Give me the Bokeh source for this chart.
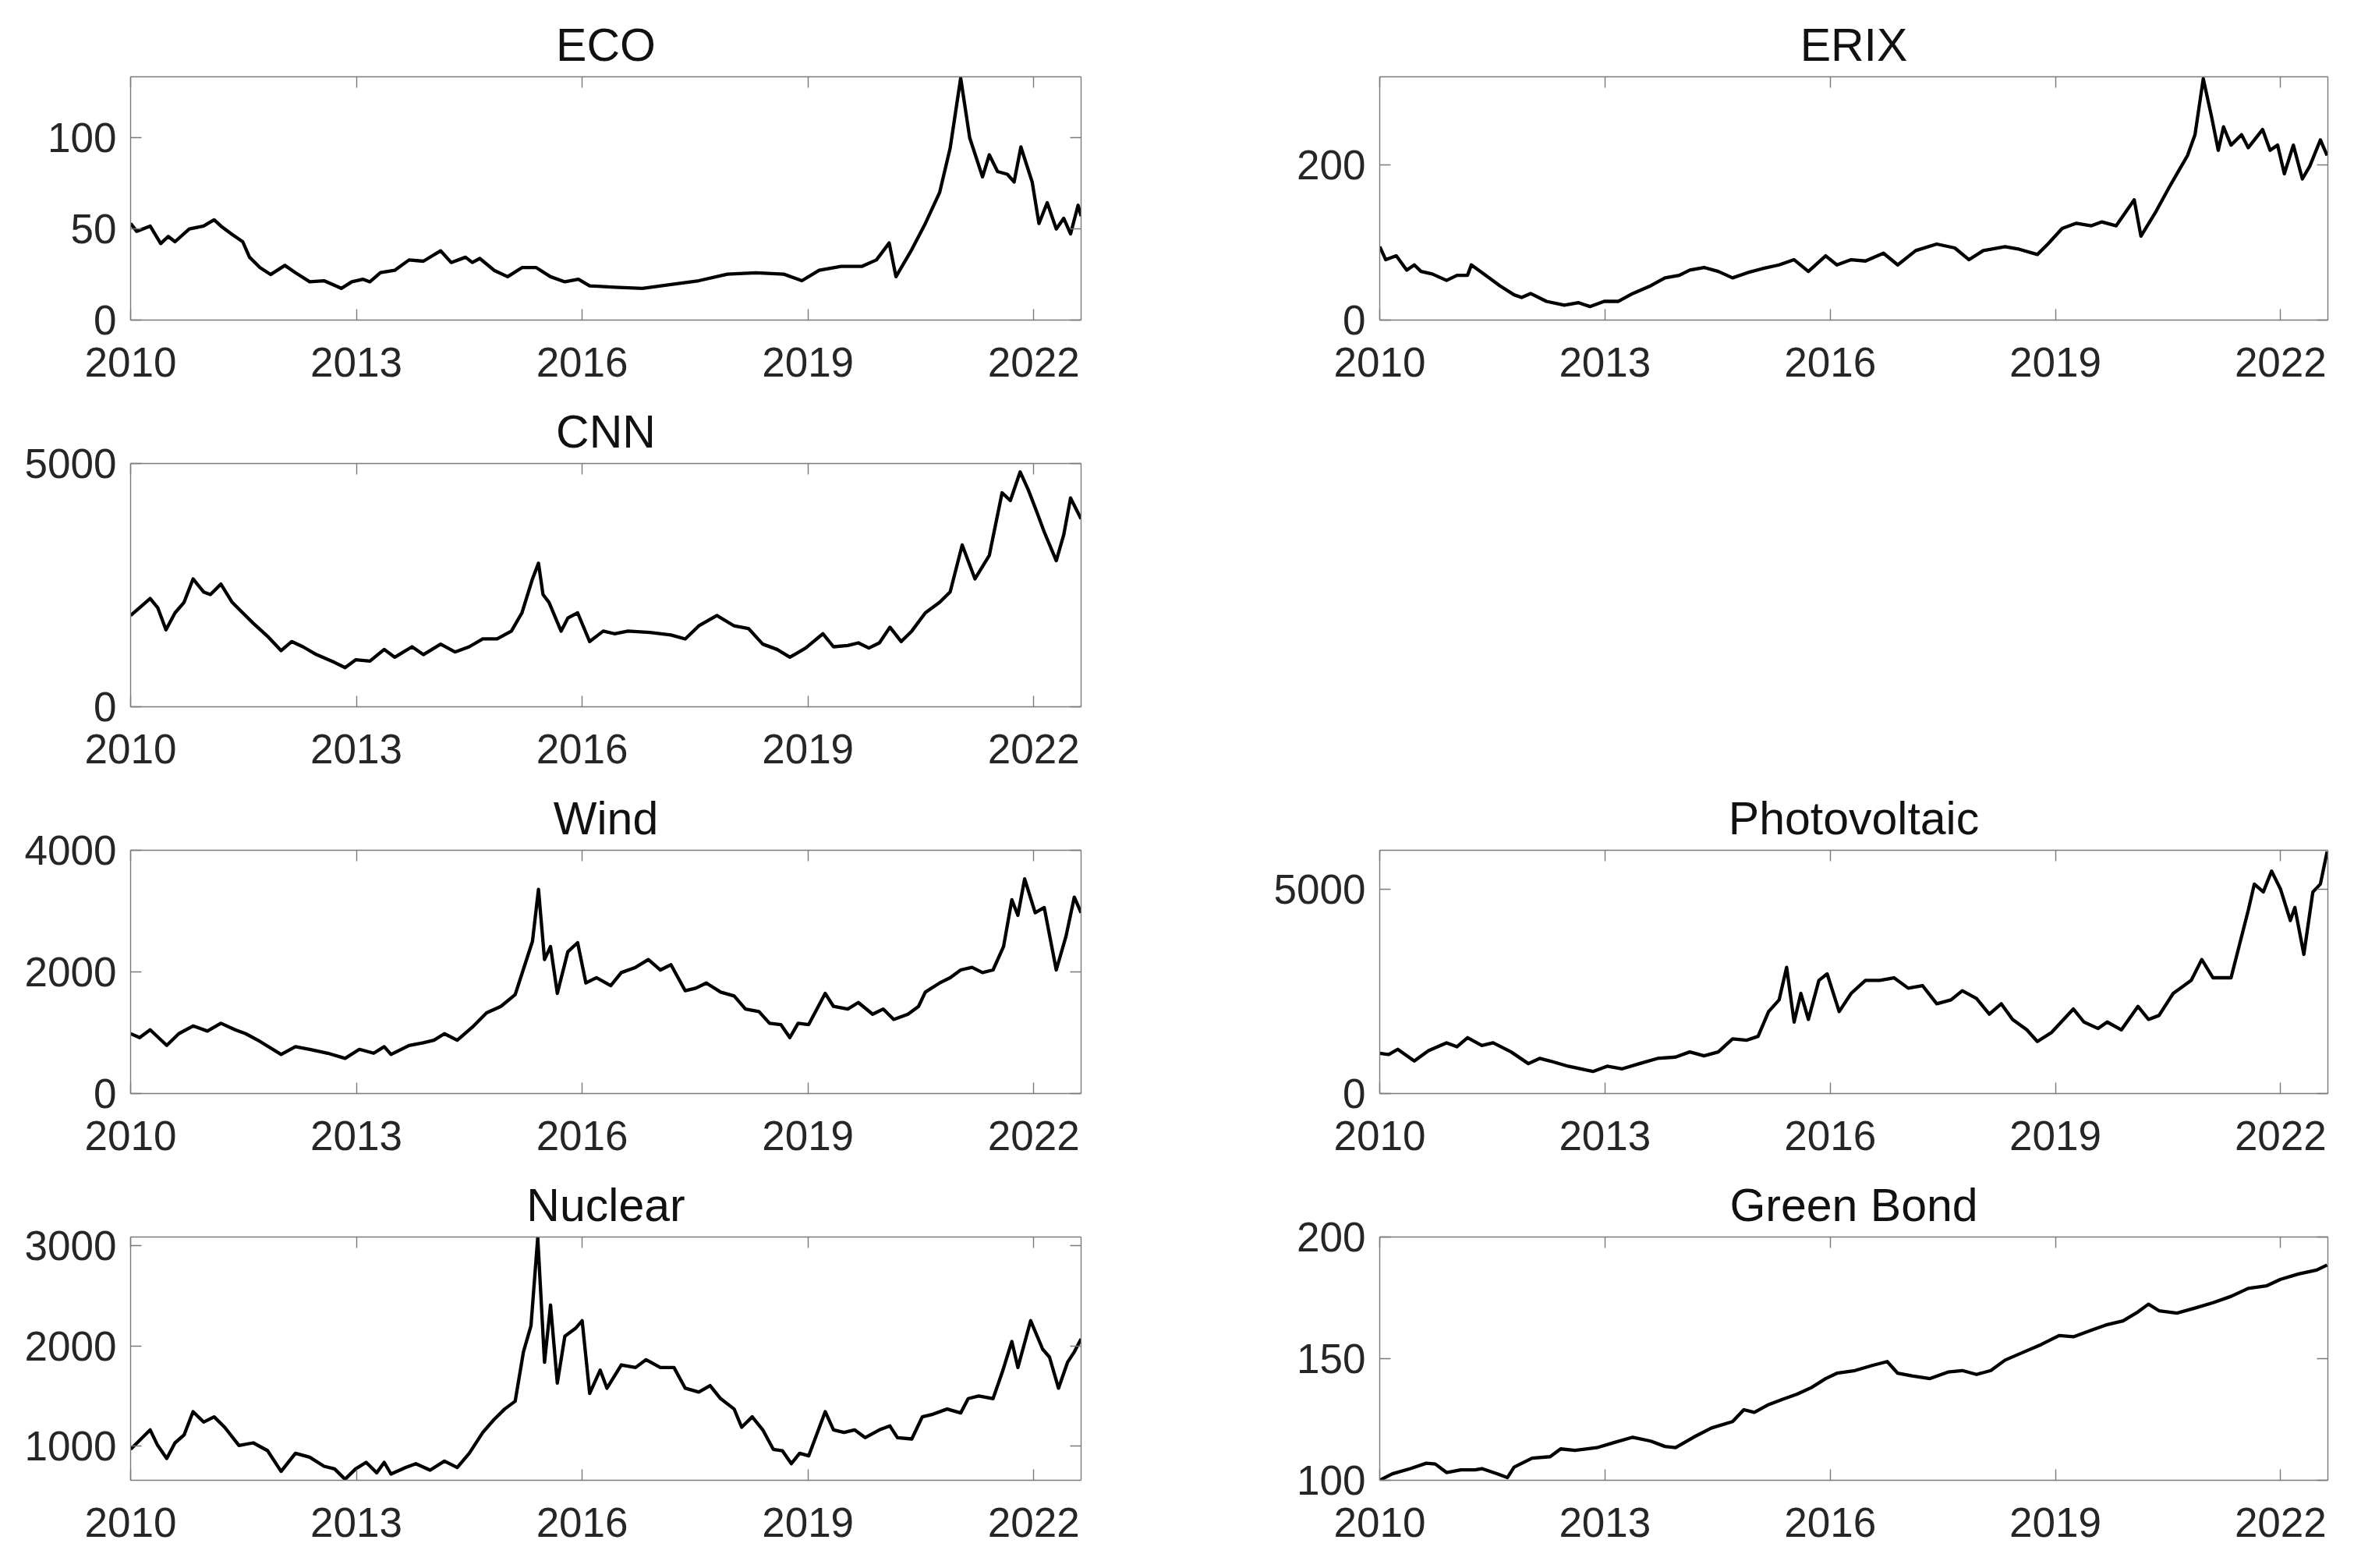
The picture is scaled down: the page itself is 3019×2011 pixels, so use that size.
from bokeh.plotting import figure
from bokeh.models import FixedTicker, LinearAxis, Range1d, Spacer
from bokeh.layouts import column, row
from bokeh.embed import file_html
from bokeh.resources import INLINE

# ---------------- data (decimal years, index levels) ----------------
x_ticks = [2010, 2013, 2016, 2019, 2022]
x_limits = [2010.0, 2022.63]

eco_x = [2010.00, 2010.08, 2010.26, 2010.40, 2010.50, 2010.59, 2010.78, 2010.97, 2011.11, 2011.20, 2011.35, 2011.49, 2011.58, 2011.72, 2011.86, 2012.05, 2012.19, 2012.38, 2012.57, 2012.80, 2012.94, 2013.09, 2013.18, 2013.32, 2013.51, 2013.70, 2013.89, 2014.12, 2014.26, 2014.45, 2014.54, 2014.64, 2014.83, 2015.01, 2015.20, 2015.39, 2015.58, 2015.77, 2015.95, 2016.10, 2016.43, 2016.80, 2017.18, 2017.55, 2017.93, 2018.31, 2018.68, 2018.92, 2019.15, 2019.44, 2019.72, 2019.91, 2020.08, 2020.17, 2020.38, 2020.56, 2020.75, 2020.89, 2021.03, 2021.15, 2021.32, 2021.41, 2021.52, 2021.65, 2021.74, 2021.83, 2021.98, 2022.07, 2022.18, 2022.30, 2022.40, 2022.49, 2022.59, 2022.63]
eco_y = [53, 48.7, 51.6, 42, 45.9, 43, 50, 51.6, 55, 51.6, 47, 43, 34.5, 28.8, 25, 30, 26, 21, 21.6, 17.4, 21, 22.4, 21, 26, 27.3, 33, 32.3, 38, 31.6, 34.5, 31.6, 33.8, 27.3, 23.8, 28.8, 28.8, 23.8, 21, 22.4, 18.8, 18, 17.4, 19.5, 21.6, 25.2, 25.9, 25.2, 21.6, 27.3, 29.5, 29.5, 33, 42.3, 23.8, 38.7, 53, 70, 94.3, 132.8, 100, 78.6, 90.7, 81.5, 80, 75.8, 95, 75.8, 53, 64.4, 50, 55.8, 47.3, 63, 57]

erix_x = [2010.00, 2010.08, 2010.22, 2010.36, 2010.46, 2010.55, 2010.70, 2010.89, 2011.03, 2011.17, 2011.22, 2011.41, 2011.60, 2011.79, 2011.89, 2012.01, 2012.22, 2012.46, 2012.65, 2012.80, 2012.99, 2013.18, 2013.37, 2013.61, 2013.80, 2013.99, 2014.13, 2014.32, 2014.51, 2014.70, 2014.90, 2015.09, 2015.32, 2015.52, 2015.71, 2015.94, 2016.09, 2016.28, 2016.47, 2016.71, 2016.90, 2017.14, 2017.42, 2017.66, 2017.85, 2018.04, 2018.33, 2018.52, 2018.76, 2018.90, 2019.09, 2019.28, 2019.48, 2019.62, 2019.81, 2020.05, 2020.14, 2020.33, 2020.52, 2020.76, 2020.86, 2020.97, 2021.08, 2021.17, 2021.24, 2021.34, 2021.48, 2021.57, 2021.76, 2021.86, 2021.96, 2022.05, 2022.17, 2022.29, 2022.39, 2022.53, 2022.62]
erix_y = [94.5, 77.7, 82.7, 64.3, 71, 62.6, 59.3, 51, 57.6, 57.6, 71, 57.6, 44.2, 32.5, 29.1, 34.2, 24.1, 19.1, 22.4, 17.4, 24.1, 24.1, 34.2, 44.2, 54.3, 57.6, 64.3, 67.7, 62.6, 54.3, 61, 66, 71, 77.7, 62.6, 82.7, 71, 77.7, 76, 86, 71, 89.4, 97.8, 92.8, 77.7, 89.4, 94.5, 91.1, 84.4, 97.8, 117.9, 124.6, 121.3, 126.3, 121.3, 154.8, 107.9, 138, 171.5, 211.7, 238.5, 310.5, 262, 218.4, 248.6, 225.1, 238.5, 221.8, 245.2, 218.4, 225.1, 188.3, 225.1, 181.6, 198.3, 231.8, 211.7]

cnn_x = [2010.00, 2010.12, 2010.26, 2010.36, 2010.47, 2010.59, 2010.71, 2010.83, 2010.97, 2011.06, 2011.20, 2011.35, 2011.49, 2011.63, 2011.82, 2012.00, 2012.14, 2012.29, 2012.47, 2012.71, 2012.85, 2012.99, 2013.18, 2013.37, 2013.51, 2013.74, 2013.89, 2014.12, 2014.31, 2014.50, 2014.68, 2014.87, 2015.06, 2015.20, 2015.34, 2015.42, 2015.48, 2015.56, 2015.72, 2015.81, 2015.94, 2016.10, 2016.28, 2016.43, 2016.61, 2016.90, 2017.18, 2017.37, 2017.55, 2017.79, 2018.02, 2018.21, 2018.40, 2018.59, 2018.76, 2018.97, 2019.20, 2019.34, 2019.53, 2019.67, 2019.81, 2019.95, 2020.09, 2020.24, 2020.38, 2020.56, 2020.75, 2020.89, 2021.05, 2021.22, 2021.41, 2021.58, 2021.69, 2021.82, 2021.93, 2022.05, 2022.14, 2022.30, 2022.40, 2022.49, 2022.63]
cnn_y = [1878, 2039, 2226, 2039, 1583, 1931, 2146, 2629, 2361, 2307, 2522, 2146, 1931, 1717, 1449, 1154, 1341, 1234, 1073, 912, 805, 966, 939, 1180, 1019, 1234, 1073, 1288, 1127, 1234, 1395, 1395, 1556, 1931, 2629, 2951, 2307, 2146, 1556, 1824, 1931, 1341, 1556, 1502, 1556, 1529, 1476, 1395, 1663, 1878, 1663, 1610, 1288, 1180, 1019, 1207, 1502, 1234, 1261, 1314, 1207, 1314, 1636, 1341, 1556, 1931, 2146, 2361, 3326, 2629, 3112, 4399, 4238, 4828, 4453, 3970, 3594, 3004, 3541, 4292, 3863]

wind_x = [2010.00, 2010.12, 2010.26, 2010.48, 2010.64, 2010.83, 2011.02, 2011.20, 2011.39, 2011.53, 2011.72, 2012.00, 2012.19, 2012.38, 2012.62, 2012.85, 2013.04, 2013.23, 2013.37, 2013.46, 2013.70, 2013.89, 2014.03, 2014.17, 2014.34, 2014.54, 2014.73, 2014.92, 2015.11, 2015.25, 2015.34, 2015.42, 2015.50, 2015.58, 2015.67, 2015.81, 2015.94, 2016.05, 2016.19, 2016.38, 2016.52, 2016.71, 2016.88, 2017.04, 2017.18, 2017.37, 2017.51, 2017.65, 2017.84, 2018.02, 2018.17, 2018.35, 2018.49, 2018.64, 2018.76, 2018.87, 2019.01, 2019.23, 2019.34, 2019.53, 2019.67, 2019.86, 2020.00, 2020.14, 2020.33, 2020.47, 2020.56, 2020.75, 2020.89, 2021.03, 2021.18, 2021.32, 2021.46, 2021.60, 2021.71, 2021.79, 2021.88, 2022.02, 2022.14, 2022.30, 2022.43, 2022.54, 2022.63]
wind_y = [984, 920, 1048, 791, 984, 1112, 1027, 1155, 1048, 984, 856, 642, 770, 727, 663, 578, 727, 663, 770, 642, 791, 834, 877, 984, 877, 1091, 1326, 1433, 1626, 2160, 2503, 3358, 2203, 2417, 1647, 2332, 2481, 1818, 1904, 1775, 1989, 2075, 2203, 2032, 2118, 1690, 1733, 1818, 1668, 1604, 1390, 1348, 1155, 1134, 920, 1155, 1134, 1647, 1433, 1390, 1497, 1305, 1390, 1219, 1305, 1433, 1668, 1818, 1904, 2032, 2075, 1989, 2032, 2417, 3187, 2930, 3529, 2973, 3059, 2032, 2588, 3230, 2973]

pv_x = [2010.00, 2010.12, 2010.24, 2010.46, 2010.65, 2010.89, 2011.03, 2011.17, 2011.36, 2011.51, 2011.75, 2011.98, 2012.13, 2012.27, 2012.51, 2012.84, 2013.03, 2013.23, 2013.46, 2013.70, 2013.94, 2014.13, 2014.32, 2014.51, 2014.70, 2014.89, 2015.04, 2015.18, 2015.32, 2015.42, 2015.52, 2015.61, 2015.71, 2015.85, 2015.96, 2016.12, 2016.28, 2016.47, 2016.66, 2016.85, 2017.04, 2017.23, 2017.42, 2017.61, 2017.76, 2017.95, 2018.12, 2018.28, 2018.43, 2018.62, 2018.76, 2018.95, 2019.24, 2019.38, 2019.57, 2019.69, 2019.88, 2020.10, 2020.24, 2020.38, 2020.57, 2020.81, 2020.95, 2021.10, 2021.34, 2021.57, 2021.65, 2021.77, 2021.88, 2022.00, 2022.13, 2022.19, 2022.31, 2022.43, 2022.53, 2022.62]
pv_y = [987, 955, 1083, 796, 1051, 1242, 1146, 1369, 1178, 1242, 1019, 732, 860, 796, 669, 541, 669, 605, 732, 860, 892, 1019, 923, 1019, 1338, 1306, 1401, 2006, 2293, 3089, 1751, 2452, 1815, 2771, 2930, 2006, 2452, 2771, 2771, 2834, 2579, 2643, 2197, 2293, 2516, 2325, 1943, 2197, 1815, 1560, 1274, 1497, 2070, 1751, 1592, 1751, 1560, 2134, 1815, 1911, 2452, 2771, 3280, 2834, 2834, 4490, 5127, 4936, 5446, 5000, 4235, 4554, 3407, 4936, 5127, 5923]

nuc_x = [2010.00, 2010.12, 2010.26, 2010.36, 2010.48, 2010.59, 2010.71, 2010.83, 2010.97, 2011.11, 2011.25, 2011.44, 2011.63, 2011.82, 2012.00, 2012.19, 2012.38, 2012.57, 2012.71, 2012.85, 2012.99, 2013.13, 2013.27, 2013.37, 2013.46, 2013.65, 2013.79, 2013.98, 2014.17, 2014.34, 2014.50, 2014.68, 2014.83, 2014.97, 2015.11, 2015.22, 2015.32, 2015.41, 2015.50, 2015.58, 2015.67, 2015.77, 2015.91, 2016.00, 2016.10, 2016.24, 2016.33, 2016.52, 2016.71, 2016.85, 2017.04, 2017.22, 2017.37, 2017.55, 2017.70, 2017.84, 2018.02, 2018.12, 2018.26, 2018.40, 2018.54, 2018.66, 2018.78, 2018.89, 2019.01, 2019.23, 2019.34, 2019.48, 2019.62, 2019.76, 2019.95, 2020.09, 2020.19, 2020.38, 2020.52, 2020.66, 2020.85, 2021.03, 2021.13, 2021.27, 2021.46, 2021.58, 2021.71, 2021.79, 2021.96, 2022.12, 2022.21, 2022.33, 2022.45, 2022.54, 2022.63]
nuc_y = [966, 1057, 1161, 1005, 875, 1031, 1109, 1343, 1239, 1291, 1187, 1005, 1031, 953, 746, 927, 888, 797, 771, 668, 771, 836, 732, 836, 719, 784, 823, 758, 849, 784, 927, 1135, 1265, 1369, 1447, 1940, 2200, 3083, 1836, 2408, 1628, 2096, 2174, 2252, 1525, 1758, 1577, 1810, 1784, 1862, 1784, 1784, 1577, 1538, 1603, 1473, 1369, 1187, 1291, 1161, 966, 953, 823, 927, 901, 1343, 1161, 1135, 1161, 1083, 1161, 1200, 1083, 1070, 1291, 1317, 1369, 1330, 1473, 1499, 1473, 1732, 2044, 1784, 2252, 1966, 1888, 1577, 1836, 1940, 2070]

gb_x = [2010.00, 2010.17, 2010.41, 2010.62, 2010.74, 2010.89, 2011.08, 2011.27, 2011.36, 2011.56, 2011.70, 2011.79, 2012.03, 2012.27, 2012.41, 2012.60, 2012.89, 2013.13, 2013.37, 2013.61, 2013.80, 2013.94, 2014.18, 2014.42, 2014.70, 2014.85, 2014.99, 2015.18, 2015.37, 2015.56, 2015.75, 2015.94, 2016.09, 2016.33, 2016.56, 2016.76, 2016.90, 2017.09, 2017.33, 2017.57, 2017.76, 2017.95, 2018.14, 2018.33, 2018.57, 2018.81, 2019.05, 2019.24, 2019.48, 2019.67, 2019.90, 2020.10, 2020.24, 2020.38, 2020.62, 2020.86, 2021.10, 2021.34, 2021.57, 2021.81, 2022.00, 2022.24, 2022.48, 2022.62]
gb_y = [100.0, 102.7, 104.8, 107.0, 106.7, 103.2, 104.3, 104.3, 104.8, 102.7, 101.1, 105.4, 109.1, 109.7, 112.9, 112.3, 113.4, 115.6, 117.7, 116.1, 113.9, 113.4, 117.7, 121.5, 124.1, 129.0, 127.9, 131.1, 133.3, 135.4, 138.1, 141.8, 144.0, 145.1, 147.2, 148.8, 144.0, 142.9, 141.8, 144.5, 145.1, 143.5, 145.1, 149.4, 152.6, 155.8, 159.5, 159.0, 161.7, 163.8, 165.5, 169.2, 172.4, 169.7, 168.7, 170.8, 173.0, 175.6, 178.9, 179.9, 182.6, 184.8, 186.4, 188.5]

# axis limits and ticks per panel
eco_ylim, eco_ticks = [0, 133.5], [0, 50, 100]
erix_ylim, erix_ticks = [0, 313], [0, 200]
cnn_ylim, cnn_ticks = [0, 5000], [0, 5000]
wind_ylim, wind_ticks = [0, 4000], [0, 2000, 4000]
pv_ylim, pv_ticks = [0, 5955], [0, 5000]
nuc_ylim, nuc_ticks = [657, 3088], [1000, 2000, 3000]
gb_ylim, gb_ticks = [100, 200], [100, 150, 200]

# ---------------- styling ----------------
FONT = "Liberation Sans"
AX_COLOR = "#7a7a7a"
LBL_COLOR = "#262626"
FIG_H = 496
TICK_LEN = 14


def style_main_axis(ax, standoff):
    ax.axis_line_color = AX_COLOR
    ax.axis_line_width = 1.4
    ax.major_tick_line_color = AX_COLOR
    ax.major_tick_line_width = 1.4
    ax.major_tick_in = TICK_LEN
    ax.major_tick_out = 0
    ax.minor_tick_line_color = None
    ax.major_label_text_font = FONT
    ax.major_label_text_color = LBL_COLOR
    ax.major_label_text_font_size = "53px"
    ax.major_label_standoff = standoff


def box_axis(ticks):
    # mirror axis on the opposite side: only inward tick marks, no labels
    ax = LinearAxis(ticker=FixedTicker(ticks=[], minor_ticks=ticks))
    ax.axis_line_color = AX_COLOR
    ax.axis_line_width = 1.4
    ax.major_tick_line_color = None
    ax.minor_tick_line_color = AX_COLOR
    ax.minor_tick_line_width = 1.4
    ax.minor_tick_in = TICK_LEN
    ax.minor_tick_out = 0
    ax.major_label_standoff = 0
    return ax


def panel(title, xs, ys, ylim, yticks, width, bl, br):
    p = figure(width=width, height=FIG_H,
               x_range=Range1d(x_limits[0], x_limits[1]),
               y_range=Range1d(ylim[0], ylim[1]),
               output_backend="svg", toolbar_location=None,
               min_border_left=bl, min_border_right=br,
               min_border_top=90, min_border_bottom=94)
    p.background_fill_color = "white"
    p.border_fill_color = "white"
    p.outline_line_color = None
    p.xgrid.grid_line_color = None
    p.ygrid.grid_line_color = None

    p.xaxis.ticker = FixedTicker(ticks=x_ticks)
    p.yaxis.ticker = FixedTicker(ticks=yticks)
    style_main_axis(p.xaxis[0], 35)
    style_main_axis(p.yaxis[0], 18)

    p.add_layout(box_axis(x_ticks), "above")
    p.add_layout(box_axis(yticks), "right")

    p.title.text = title
    p.title.align = "center"
    p.title.text_font = FONT
    p.title.text_font_size = "59px"
    p.title.text_font_style = "normal"
    p.title.text_color = "#111111"
    p.title.standoff = 16

    p.line(xs, ys, line_color="black", line_width=4.3, line_join="round")
    return p


LW, LBL, LBR = 1502, 159, 124
RW, RBL, RBR = 1501, 259, 26

f_eco = panel("ECO", eco_x, eco_y, eco_ylim, eco_ticks, LW, LBL, LBR)
f_erix = panel("ERIX", erix_x, erix_y, erix_ylim, erix_ticks, RW, RBL, RBR)
f_cnn = panel("CNN", cnn_x, cnn_y, cnn_ylim, cnn_ticks, LW, LBL, LBR)
f_wind = panel("Wind", wind_x, wind_y, wind_ylim, wind_ticks, LW, LBL, LBR)
f_pv = panel("Photovoltaic", pv_x, pv_y, pv_ylim, pv_ticks, RW, RBL, RBR)
f_nuc = panel("Nuclear", nuc_x, nuc_y, nuc_ylim, nuc_ticks, LW, LBL, LBR)
f_gb = panel("Green Bond", gb_x, gb_y, gb_ylim, gb_ticks, RW, RBL, RBR)

grid = column(
    row(f_eco, f_erix, spacing=0),
    row(f_cnn, Spacer(width=RW, height=FIG_H), spacing=0),
    row(f_wind, f_pv, spacing=0),
    row(f_nuc, f_gb, spacing=0),
    spacing=0,
)
layout = column(Spacer(width=10, height=8),
                row(Spacer(width=8, height=10), grid, spacing=0),
                spacing=0)

open("out.html", "w").write(file_html(layout, INLINE))
